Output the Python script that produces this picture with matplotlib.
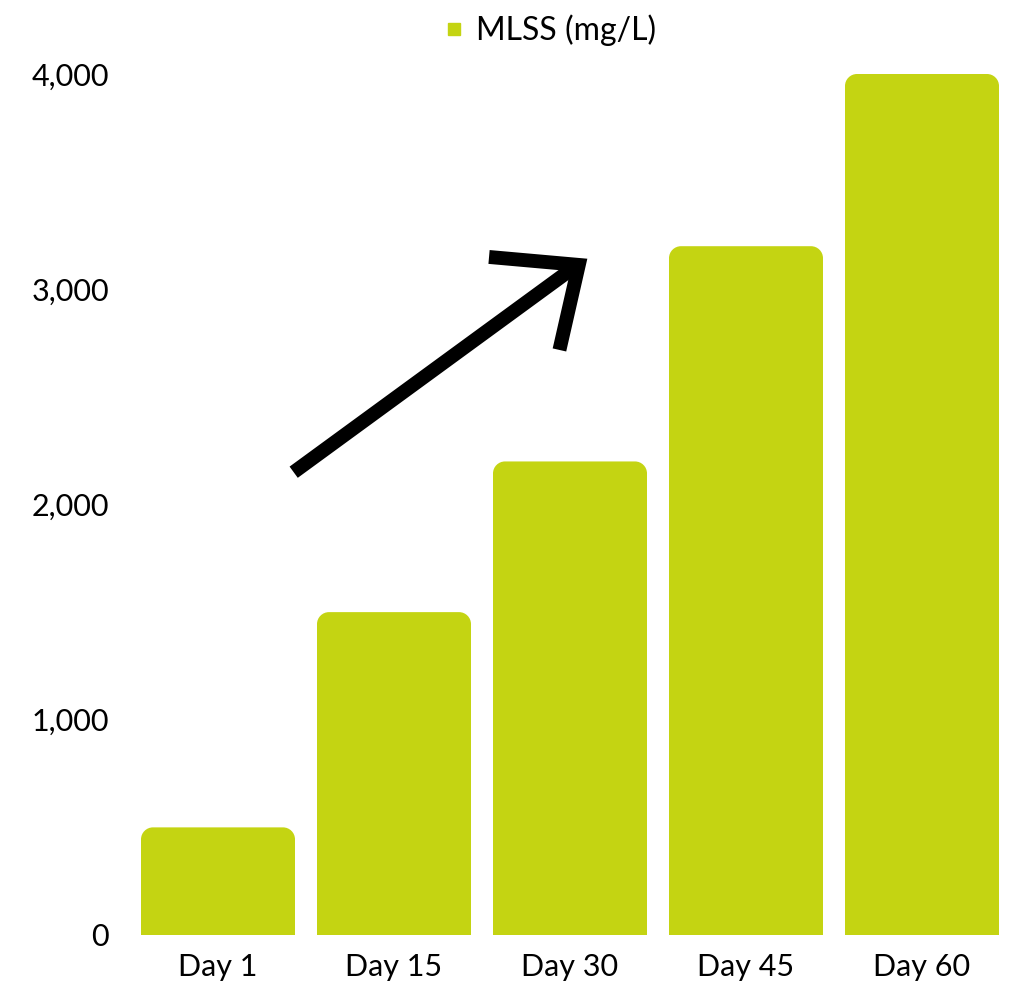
import matplotlib.pyplot as plt
from matplotlib.path import Path
from matplotlib.patches import PathPatch
from matplotlib.lines import Line2D
from matplotlib.ticker import FuncFormatter

plt.rcParams['font.family'] = ['Lato', 'DejaVu Sans']

days = ["Day 1", "Day 15", "Day 30", "Day 45", "Day 60"]
mlss = [500, 1500, 2200, 3200, 4000]
bar_color = "#C4D412"

fig = plt.figure(figsize=(10.26, 9.9), dpi=100)
ax = fig.add_axes([130 / 1026, 55 / 990, 880 / 1026, 861 / 990])

bars = ax.bar(range(len(days)), mlss, width=0.875, color=bar_color)
ax.set_xlim(-0.5, len(days) - 0.5)
ax.set_ylim(0, 4000)

# redraw bars with rounded top corners (radius ~12 px)
rx = 12 / 176
ry = 12 / 861 * 4000
k = 0.5523
for b in bars:
    x0, w, h = b.get_x(), b.get_width(), b.get_height()
    x1 = x0 + w
    verts = [(x0, 0), (x0, h - ry),
             (x0, h - ry + k * ry), (x0 + rx - k * rx, h), (x0 + rx, h),
             (x1 - rx, h),
             (x1 - rx + k * rx, h), (x1, h - ry + k * ry), (x1, h - ry),
             (x1, 0), (x0, 0)]
    codes = [Path.MOVETO, Path.LINETO,
             Path.CURVE4, Path.CURVE4, Path.CURVE4,
             Path.LINETO,
             Path.CURVE4, Path.CURVE4, Path.CURVE4,
             Path.LINETO, Path.CLOSEPOLY]
    ax.add_patch(PathPatch(Path(verts, codes), facecolor=bar_color,
                           edgecolor='none', clip_on=False))
    b.set_visible(False)

ax.set_xticks(range(len(days)))
ax.set_xticklabels(days)
ax.set_yticks([0, 1000, 2000, 3000, 4000])
ax.yaxis.set_major_formatter(FuncFormatter(lambda v, p: f"{int(v):,}"))
ax.tick_params(axis='both', length=0, labelsize=22)
ax.tick_params(axis='x', pad=13)
ax.tick_params(axis='y', pad=15)
for s in ax.spines.values():
    s.set_visible(False)

# trend arrow
ax.plot([0.43, 2.02], [2150, 3100], color='black', lw=10,
        solid_capstyle='butt', clip_on=False)
ax.plot([1.54, 2.05, 1.94], [3150, 3113, 2718], color='black', lw=10,
        solid_joinstyle='miter', solid_capstyle='butt', clip_on=False)

handle = Line2D([], [], marker='s', color=bar_color, linestyle='none',
                markersize=8.6)
fig.legend([handle], ["MLSS (mg/L)"], loc='center',
           bbox_to_anchor=(551 / 1026, 1 - 30 / 990), frameon=False,
           fontsize=23, handlelength=0.5, handletextpad=0.45,
           borderpad=0)

fig.savefig("out.png", dpi=100)
